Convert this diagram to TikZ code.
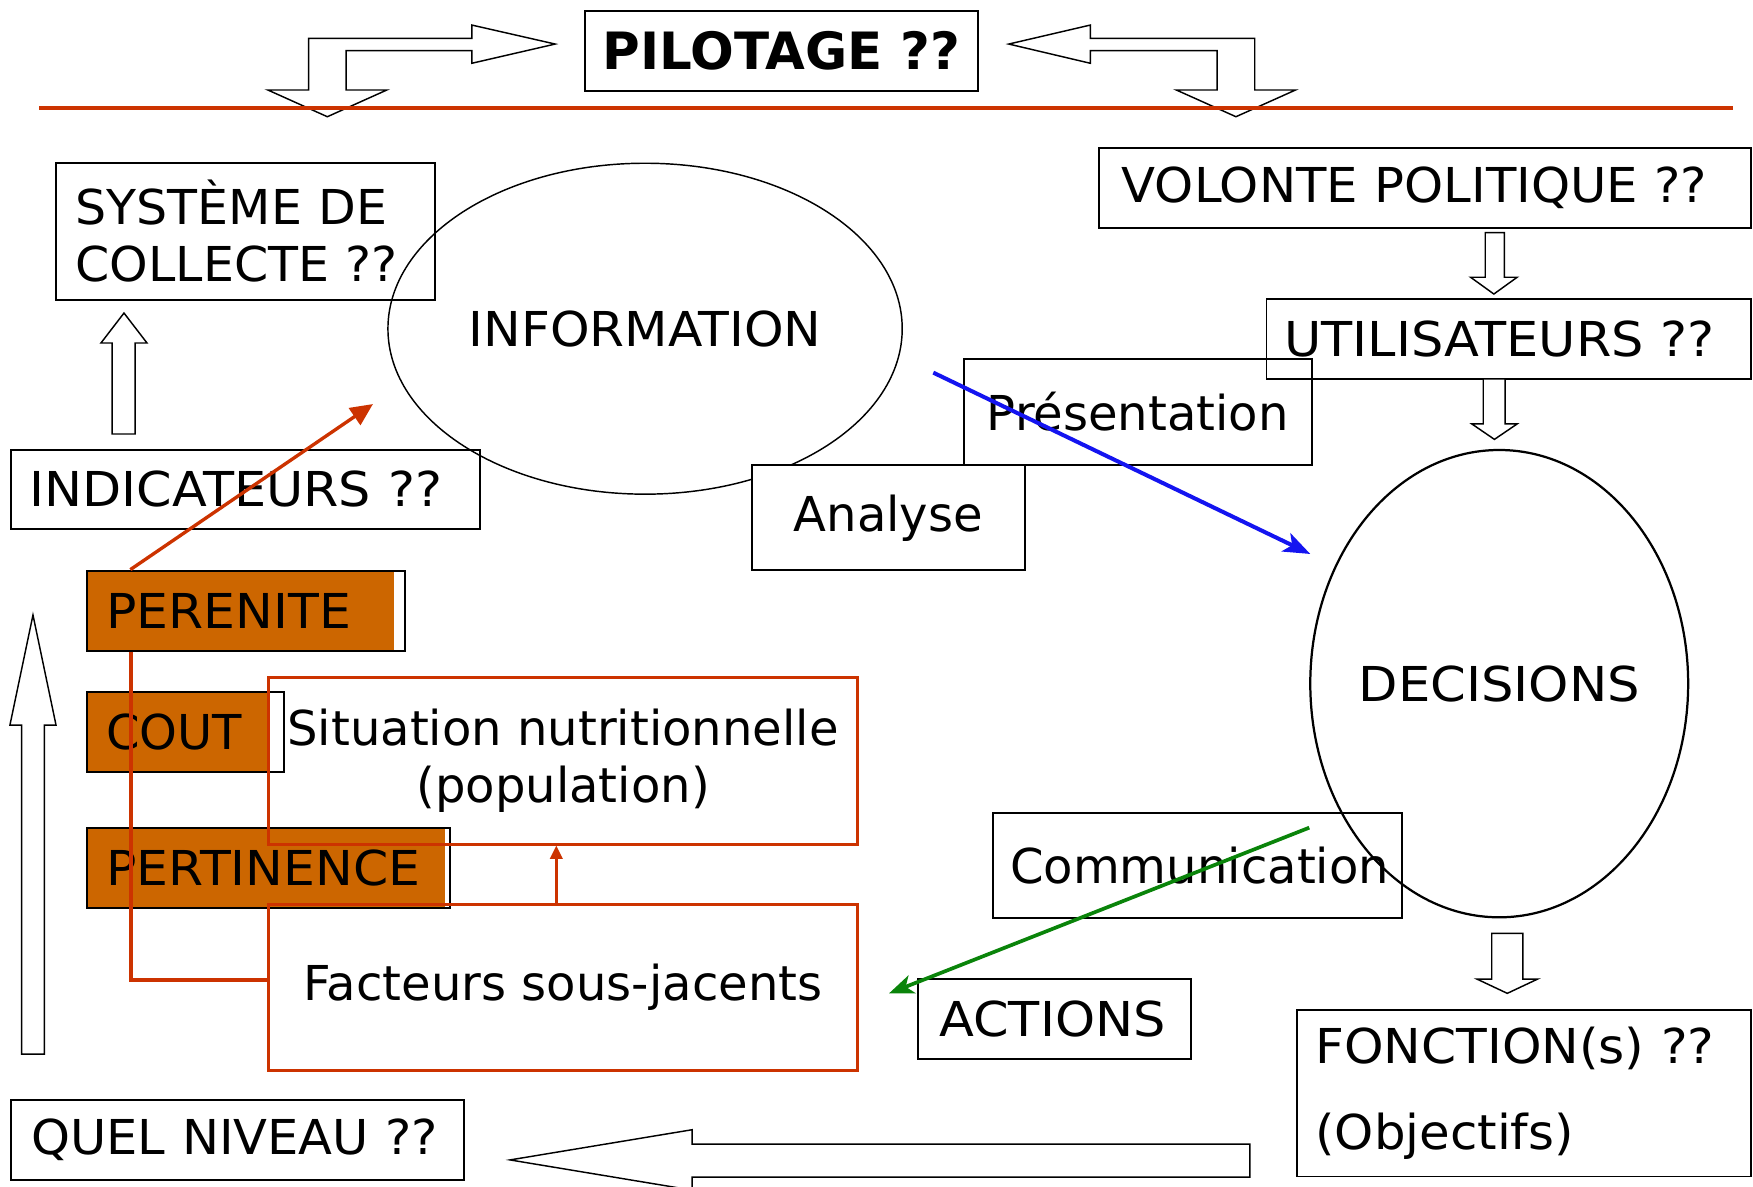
\documentclass[tikz,border=0pt]{standalone}
\usepackage{fontspec}
\setmainfont{DejaVu Sans}
\usepackage{graphicx}
\usetikzlibrary{shapes.geometric,arrows.meta}
\definecolor{orng}{HTML}{CC6600}
\definecolor{rred}{HTML}{CC3300}
\definecolor{bblue}{HTML}{1414F0}
\definecolor{ggreen}{HTML}{0A840A}
\newcommand{\hstr}[2]{\scalebox{#1}[1]{#2}}
\begin{document}
\begin{tikzpicture}[x=1pt,y=-1pt,
  every node/.style={font=\fontsize{43}{51}\selectfont, inner sep=0pt},
  bx/.style={draw=black, line width=1.7pt, rectangle, anchor=north west},
  rbx/.style={draw=rred, line width=2.7pt, rectangle, anchor=north west, align=center},
  lft/.style={align=left, inner xsep=#1},
  ell/.style={draw=black, ellipse, inner sep=0pt},
  blk/.style={draw=black, line width=1.3pt, fill=white, line join=miter},
  redline/.style={draw=rred, line width=3pt},
]
\useasboundingbox (0,0) rectangle (1568,1061);

% top bent block arrows
\draw[blk] (276,80.5) -- (276,34.3) -- (422,34.3) -- (422,22.4) -- (496.6,39.4) -- (422,56.6) -- (422,45.3) -- (309.6,45.3) -- (309.6,80.5) -- (346,80.5) -- (292.8,104.4) -- (239.6,80.5) -- cycle;
\draw[blk] (1122.3,80.5) -- (1122.3,34.3) -- (975.3,34.3) -- (975.3,22.4) -- (902.3,39.4) -- (975.3,56.6) -- (975.3,45.3) -- (1088.7,45.3) -- (1088.7,80.5) -- (1052.2,80.5) -- (1105.5,104.4) -- (1158.8,80.5) -- cycle;
\draw[draw=rred, line width=3.6pt] (35,96.6) -- (1550,96.6);

\node[bx, minimum width=351.6pt, minimum height=71.5pt, font=\fontsize{46}{51}\selectfont\bfseries] (pil) at (522.4,9) {PILOTAGE ??};

% INFORMATION
\node[ell, line width=1.3pt, minimum width=460pt, minimum height=296pt] (info) at (577,294) {\makebox[0pt]{\hstr{1.047}{INFORMATION}}};
\node[bx, minimum width=339pt, minimum height=122.5pt, lft=17.6pt, text width=303.8pt] (sys) at (49.2,144.9) {\hstr{1.02}{SYSTÈME DE}\\\hstr{1.02}{COLLECTE ??}};
\draw[blk] (100.2,388.2) -- (100.2,306.8) -- (90.3,306.8) -- (110.9,280) -- (131.5,306.8) -- (120.8,306.8) -- (120.8,388.2) -- cycle;
\node[bx, minimum width=419.5pt, minimum height=70.7pt, lft=16.7pt, text width=386.1pt] (ind) at (8.9,401.6) {\hstr{1.058}{INDICATEURS ??}};

% criteria boxes
\fill[orng] (76.6,509.5) rectangle (352.4,581.4);
\fill[orng] (76.6,618) rectangle (241.5,689.6);
\fill[orng] (76.6,739.5) rectangle (398,811);
\node[bx, minimum width=284.8pt, minimum height=71.9pt, lft=17.6pt, text width=249.6pt] (per) at (76.6,509.5) {\hstr{1.05}{PERENITE}};
\node[bx, minimum width=176.5pt, minimum height=71.6pt, lft=17.6pt, text width=141.3pt] (cout) at (76.6,618) {COUT};
\node[bx, minimum width=325.3pt, minimum height=71.5pt, lft=17.6pt, text width=290.1pt] (pert) at (76.6,739.5) {\hstr{1.05}{PERTINENCE}};

\draw[blk] (19.4,942.8) -- (19.4,648.5) -- (8.9,648.5) -- (29.5,550.1) -- (50.1,648.5) -- (39.7,648.5) -- (39.7,942.8) -- cycle;

% red boxes
\node[rbx, minimum width=527.5pt, minimum height=149.2pt] (sit) at (238.5,604.4) {Situation nutritionnelle\\(population)};
\node[rbx, minimum width=527.5pt, minimum height=147.9pt] (fac) at (238.5,807.9) {Facteurs sous-jacents};

% right column
\node[bx, minimum width=582.5pt, minimum height=71pt, lft=20pt, text width=542.5pt] (vol) at (982.5,131.8) {\hstr{1.034}{VOLONTE POLITIQUE ??}};
\draw[blk] (1328.5,208.1) -- (1328.5,248) -- (1315.4,248) -- (1336.2,263) -- (1357,248) -- (1345.6,248) -- (1345.6,208.1) -- cycle;
\node[bx, minimum width=311.5pt, minimum height=94.5pt] (pre) at (861.1,320.5) {Présentation};
\node[bx, minimum width=433pt, minimum height=71.6pt, lft=16pt, text width=401pt] (uti) at (1132,266.8) {\hstr{1.06}{UTILISATEURS ??}};
\draw[blk] (1326.7,339) -- (1326.7,379.2) -- (1316.5,379.2) -- (1336.7,393) -- (1357,379.2) -- (1346.3,379.2) -- (1346.3,339) -- cycle;
\node[bx, fill=white, minimum width=244.4pt, minimum height=93.9pt] (ana) at (671.5,415.3) {Analyse};

\node[ell, line width=2pt, minimum width=338pt, minimum height=418pt] (dec) at (1341,611.5) {\makebox[0pt]{\hstr{1.065}{DECISIONS}}};
\node[bx, minimum width=365.6pt, minimum height=93.9pt, lft=15pt, text width=335.6pt] (com) at (887.7,726.6) {Communication};
\draw[blk] (1334.3,834.8) -- (1334.3,875.7) -- (1321,875.7) -- (1348.2,888.5) -- (1375.4,875.7) -- (1362.1,875.7) -- (1362.1,834.8) -- cycle;
\node[bx, minimum width=243.8pt, minimum height=71.5pt, lft=19pt, text width=205.8pt] (act) at (820.4,875.1) {\hstr{1.06}{ACTIONS}};
\node[bx, minimum width=406pt, minimum height=149pt, lft=16.6pt, text width=372.8pt, font=\fontsize{43}{77.5}\selectfont] (fon) at (1159.2,902.5) {\hstr{1.045}{FONCTION(s) ??}\\\hstr{1.036}{(Objectifs)}};

% bottom
\node[bx, minimum width=405pt, minimum height=71.6pt, lft=18.4pt, text width=368.2pt] (quel) at (8.9,983) {\hstr{1.03}{QUEL NIVEAU ??}};
\draw[blk] (1118,1023.3) -- (619,1023.3) -- (619,1010.5) -- (456.2,1037.5) -- (619,1064.5) -- (619,1052.8) -- (1118,1052.8) -- cycle;

% connectors
\coordinate (infoTip) at (333.6,361.4);
\coordinate (blueStart) at (834.8,333.3);
\coordinate (blueTip) at (1172,495.5);
\coordinate (greenStart) at (1171.1,740.3);
\coordinate (greenTip) at (795.2,888.5);

\draw[redline] ([xshift=40.6pt]per.south west) |- ([yshift=6.5pt]fac.west);
\draw[draw=rred, line width=2.6pt, -{Triangle[length=12pt,width=11pt]}] ([xshift=-6pt]fac.north) -- ([xshift=-6pt]sit.south);
\draw[redline, -{Triangle[length=20pt,width=18pt]}] ([xshift=40pt]per.north west) -- (infoTip);
\draw[draw=bblue, line width=3.6pt, -{Stealth[length=24pt,width=18pt,inset=6pt]}] (blueStart) -- (blueTip);
\draw[draw=ggreen, line width=3.3pt, -{Stealth[length=22pt,width=17pt,inset=6pt]}] (greenStart) -- (greenTip);
\end{tikzpicture}
\end{document}
